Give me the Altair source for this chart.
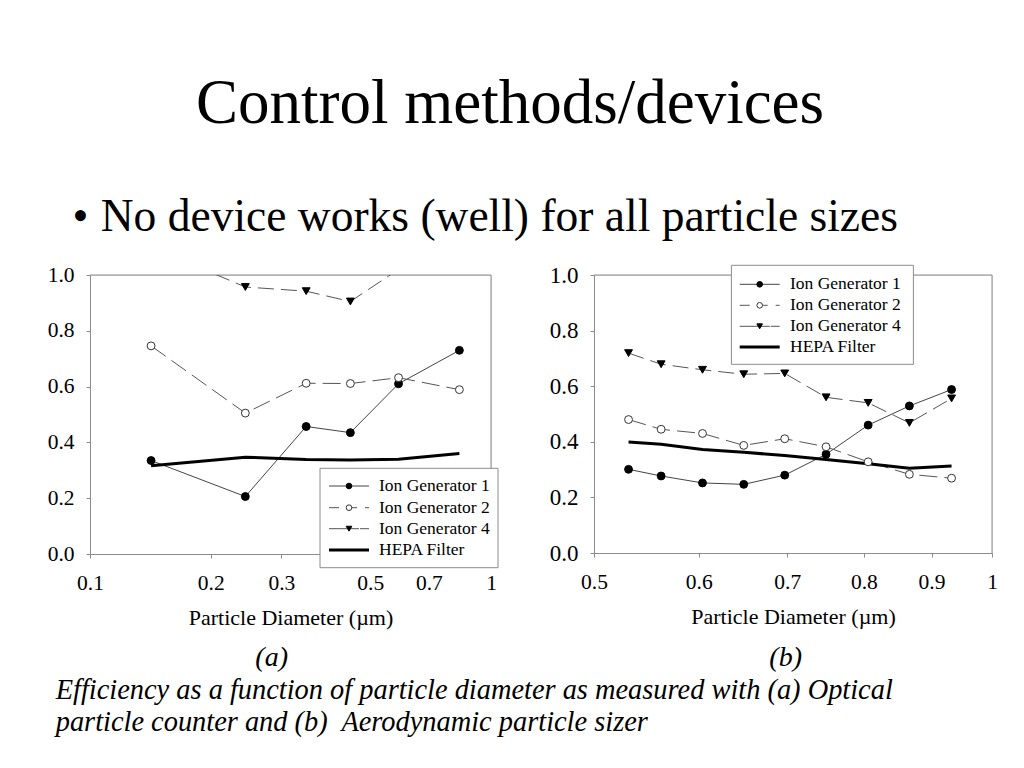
import altair as alt
import pandas as pd

FONT = "Liberation Serif"

TITLE = "Control methods/devices"
BULLET = "No device works (well) for all particle sizes"
CAPTION_1 = "Efficiency as a function of particle diameter as measured with (a) Optical"
CAPTION_2 = "particle counter and (b)\u00a0 Aerodynamic particle sizer"
PANEL_LABELS = ["(a)", "(b)"]
X_TITLE = "Particle Diameter (\u00b5m)"
SERIES = ["Ion Generator 1", "Ion Generator 2", "Ion Generator 4", "HEPA Filter"]

# Panel (a): optical particle counter
A_DIAM = [0.142, 0.244, 0.346, 0.446, 0.588, 0.834]
A_IG1 = [0.335, 0.206, 0.457, 0.435, 0.610, 0.730]
A_IG2 = [0.746, 0.505, 0.612, 0.611, 0.632, 0.589]
A_IG4 = [1.10, 0.957, 0.942, 0.905, 1.02, 1.05]
A_HEPA = [0.316, 0.347, 0.339, 0.337, 0.340, 0.360]
A_XTICKS = [0.1, 0.2, 0.3, 0.5, 0.7, 1]

# Panel (b): aerodynamic particle sizer
B_DIAM = [0.531, 0.562, 0.604, 0.649, 0.697, 0.749, 0.806, 0.866, 0.932]
B_IG1 = [0.301, 0.277, 0.252, 0.247, 0.280, 0.355, 0.460, 0.529, 0.588]
B_IG2 = [0.480, 0.445, 0.430, 0.387, 0.411, 0.382, 0.328, 0.283, 0.269]
B_IG4 = [0.719, 0.679, 0.659, 0.643, 0.646, 0.560, 0.540, 0.468, 0.556]
B_HEPA = [0.399, 0.391, 0.372, 0.362, 0.351, 0.336, 0.321, 0.305, 0.313]
B_XTICKS = [0.5, 0.6, 0.7, 0.8, 0.9, 1]

Y_TICKS = [0.0, 0.2, 0.4, 0.6, 0.8, 1.0]

STYLE = {
    "Ion Generator 1": dict(color="#444444", width=1, dash=None, shape="circle", fill="black", stroke="black"),
    "Ion Generator 2": dict(color="#555555", width=1, dash=[18, 7], shape="circle", fill="white", stroke="#333333"),
    "Ion Generator 4": dict(color="#555555", width=1, dash=[16, 7], shape="triangle-down", fill="black", stroke="black"),
    "HEPA Filter": dict(color="black", width=3, dash=None, shape=None, fill=None, stroke=None),
}
LEGEND_DASH = {"Ion Generator 2": [10, 8], "Ion Generator 4": [30, 1]}
FRAME = "#8c8c8c"


def long_df(diam, vals):
    rows = []
    for name, v in zip(SERIES, vals):
        for d, e in zip(diam, v):
            rows.append({"d": d, "e": e, "series": name})
    return pd.DataFrame(rows)


def one(txt="x"):
    return pd.DataFrame({"t": [txt]})


def text_layer(txt, x, y, size, align="left", baseline="alphabetic", italic=False):
    return alt.Chart(one(txt)).mark_text(
        font=FONT, fontSize=size, align=align, baseline=baseline,
        fontStyle="italic" if italic else "normal", color="black",
    ).encode(text="t:N", x=alt.value(x), y=alt.value(y))


def rule_layer(x, x2, y, y2, color=FRAME, width=1, dash=None, opacity=1.0):
    kw = dict(color=color, strokeWidth=width, opacity=opacity)
    if dash:
        kw["strokeDash"] = dash
    return alt.Chart(one()).mark_rule(**kw).encode(
        x=alt.value(x), x2=alt.value(x2), y=alt.value(y), y2=alt.value(y2))


def point_layer(x, y, name, size):
    st = STYLE[name]
    return alt.Chart(one()).mark_point(
        shape=st["shape"], filled=True, fill=st["fill"], stroke=st["stroke"],
        strokeWidth=1, size=size, opacity=1,
    ).encode(x=alt.value(x), y=alt.value(y))


def legend_layers(x0, x1, y0, y1, rows_y, line_x0, line_x1, text_x):
    layers = [alt.Chart(one()).mark_rect(fill="white", stroke=FRAME, strokeWidth=1).encode(
        x=alt.value(x0), x2=alt.value(x1), y=alt.value(y0), y2=alt.value(y1))]
    for name, ry in zip(SERIES, rows_y):
        st = STYLE[name]
        layers.append(rule_layer(line_x0, line_x1, ry, ry, color=st["color"], width=st["width"],
                                 dash=LEGEND_DASH.get(name)))
        if st["shape"]:
            layers.append(point_layer((line_x0 + line_x1) / 2, ry, name, 32))
        layers.append(text_layer(name, text_x, ry, 17.5, baseline="middle"))
    return layers


def panel(df, xdomain, xticks, width, height, legend, extra=(), ylab=21.5, xlab=21.5):
    xenc = alt.X("d:Q", scale=alt.Scale(type="log", domain=xdomain, nice=False),
                 axis=alt.Axis(values=xticks, format="~g", title=X_TITLE, grid=False,
                               labelFont=FONT, labelFontSize=xlab, labelColor="black",
                               labelPadding=14, tickSize=4, tickColor=FRAME, domainColor=FRAME,
                               titleFont=FONT, titleFontSize=22, titleFontWeight="normal",
                               titleColor="black", titleBaseline="alphabetic", titleY=70,
                               labelFlush=False))
    yenc = alt.Y("e:Q", scale=alt.Scale(domain=[0, 1], nice=False, zero=False),
                 axis=alt.Axis(values=Y_TICKS, format=".1f", title=None, grid=False,
                               labelFont=FONT, labelFontSize=ylab, labelColor="black",
                               labelPadding=12, tickSize=4, tickColor=FRAME, domainColor=FRAME))
    layers = []
    # top and right frame lines
    layers.append(rule_layer(0, width, 0, 0))
    layers.append(rule_layer(width, width, 0, height))
    for name in SERIES:
        st = STYLE[name]
        sub = df[df.series == name]
        base = alt.Chart(sub).encode(x=xenc, y=yenc)
        kw = dict(clip=True, color=st["color"], strokeWidth=st["width"])
        if st["dash"]:
            kw["strokeDash"] = st["dash"]
        layers.append(base.mark_line(**kw))
    for name in SERIES:
        st = STYLE[name]
        if not st["shape"]:
            continue
        sub = df[df.series == name]
        base = alt.Chart(sub).encode(x=xenc, y=yenc)
        layers.append(base.mark_point(clip=True, shape=st["shape"], filled=True, fill=st["fill"],
                                      stroke=st["stroke"], strokeWidth=1, size=62, opacity=1))
    layers += legend
    layers += list(extra)
    return alt.layer(*layers).properties(width=width, height=height)


df_a = long_df(A_DIAM, [A_IG1, A_IG2, A_IG4, A_HEPA])
df_b = long_df(B_DIAM, [B_IG1, B_IG2, B_IG4, B_HEPA])

# Slide texts, placed relative to the left panel's plot origin (page x 89.3, y 274)
extra = [
    rule_layer(-81.3, -81.3, -266, -265, opacity=0),  # page anchor
    text_layer(TITLE, 420, -152, 63, align="center"),
    text_layer("\u2022", -17.5, -44, 45.5),
    text_layer(BULLET, 10.7, -44, 45.5),
    text_layer(PANEL_LABELS[0], 181.7, 383, 28, align="center", baseline="middle", italic=True),
    text_layer(PANEL_LABELS[1], 695.7, 383, 28, align="center", baseline="middle", italic=True),
    text_layer(CAPTION_1, -34.3, 424, 28.4, italic=True),
    text_layer(CAPTION_2, -34.3, 456, 28.4, italic=True),
]

left = panel(
    df_a, [0.1, 1], A_XTICKS, 401, 279,
    legend_layers(230, 408, 193.3, 292.7, [211, 232.7, 253.7, 275], 239, 279, 289),
    extra, ylab=21.5, xlab=21.5,
)
right = panel(
    df_b, [0.5, 1], B_XTICKS, 398, 278,
    legend_layers(137.4, 319.4, -9.7, 89.3, [9.3, 30.3, 51.3, 72], 145.7, 185.7, 196),
    ylab=23, xlab=21.5,
)

chart = alt.hconcat(left, right, spacing=103, bounds="flush").properties(
    padding=0
).configure_view(stroke=None).configure(background="white")

chart.save("out.html", embed_options={"renderer": "svg", "actions": False})
